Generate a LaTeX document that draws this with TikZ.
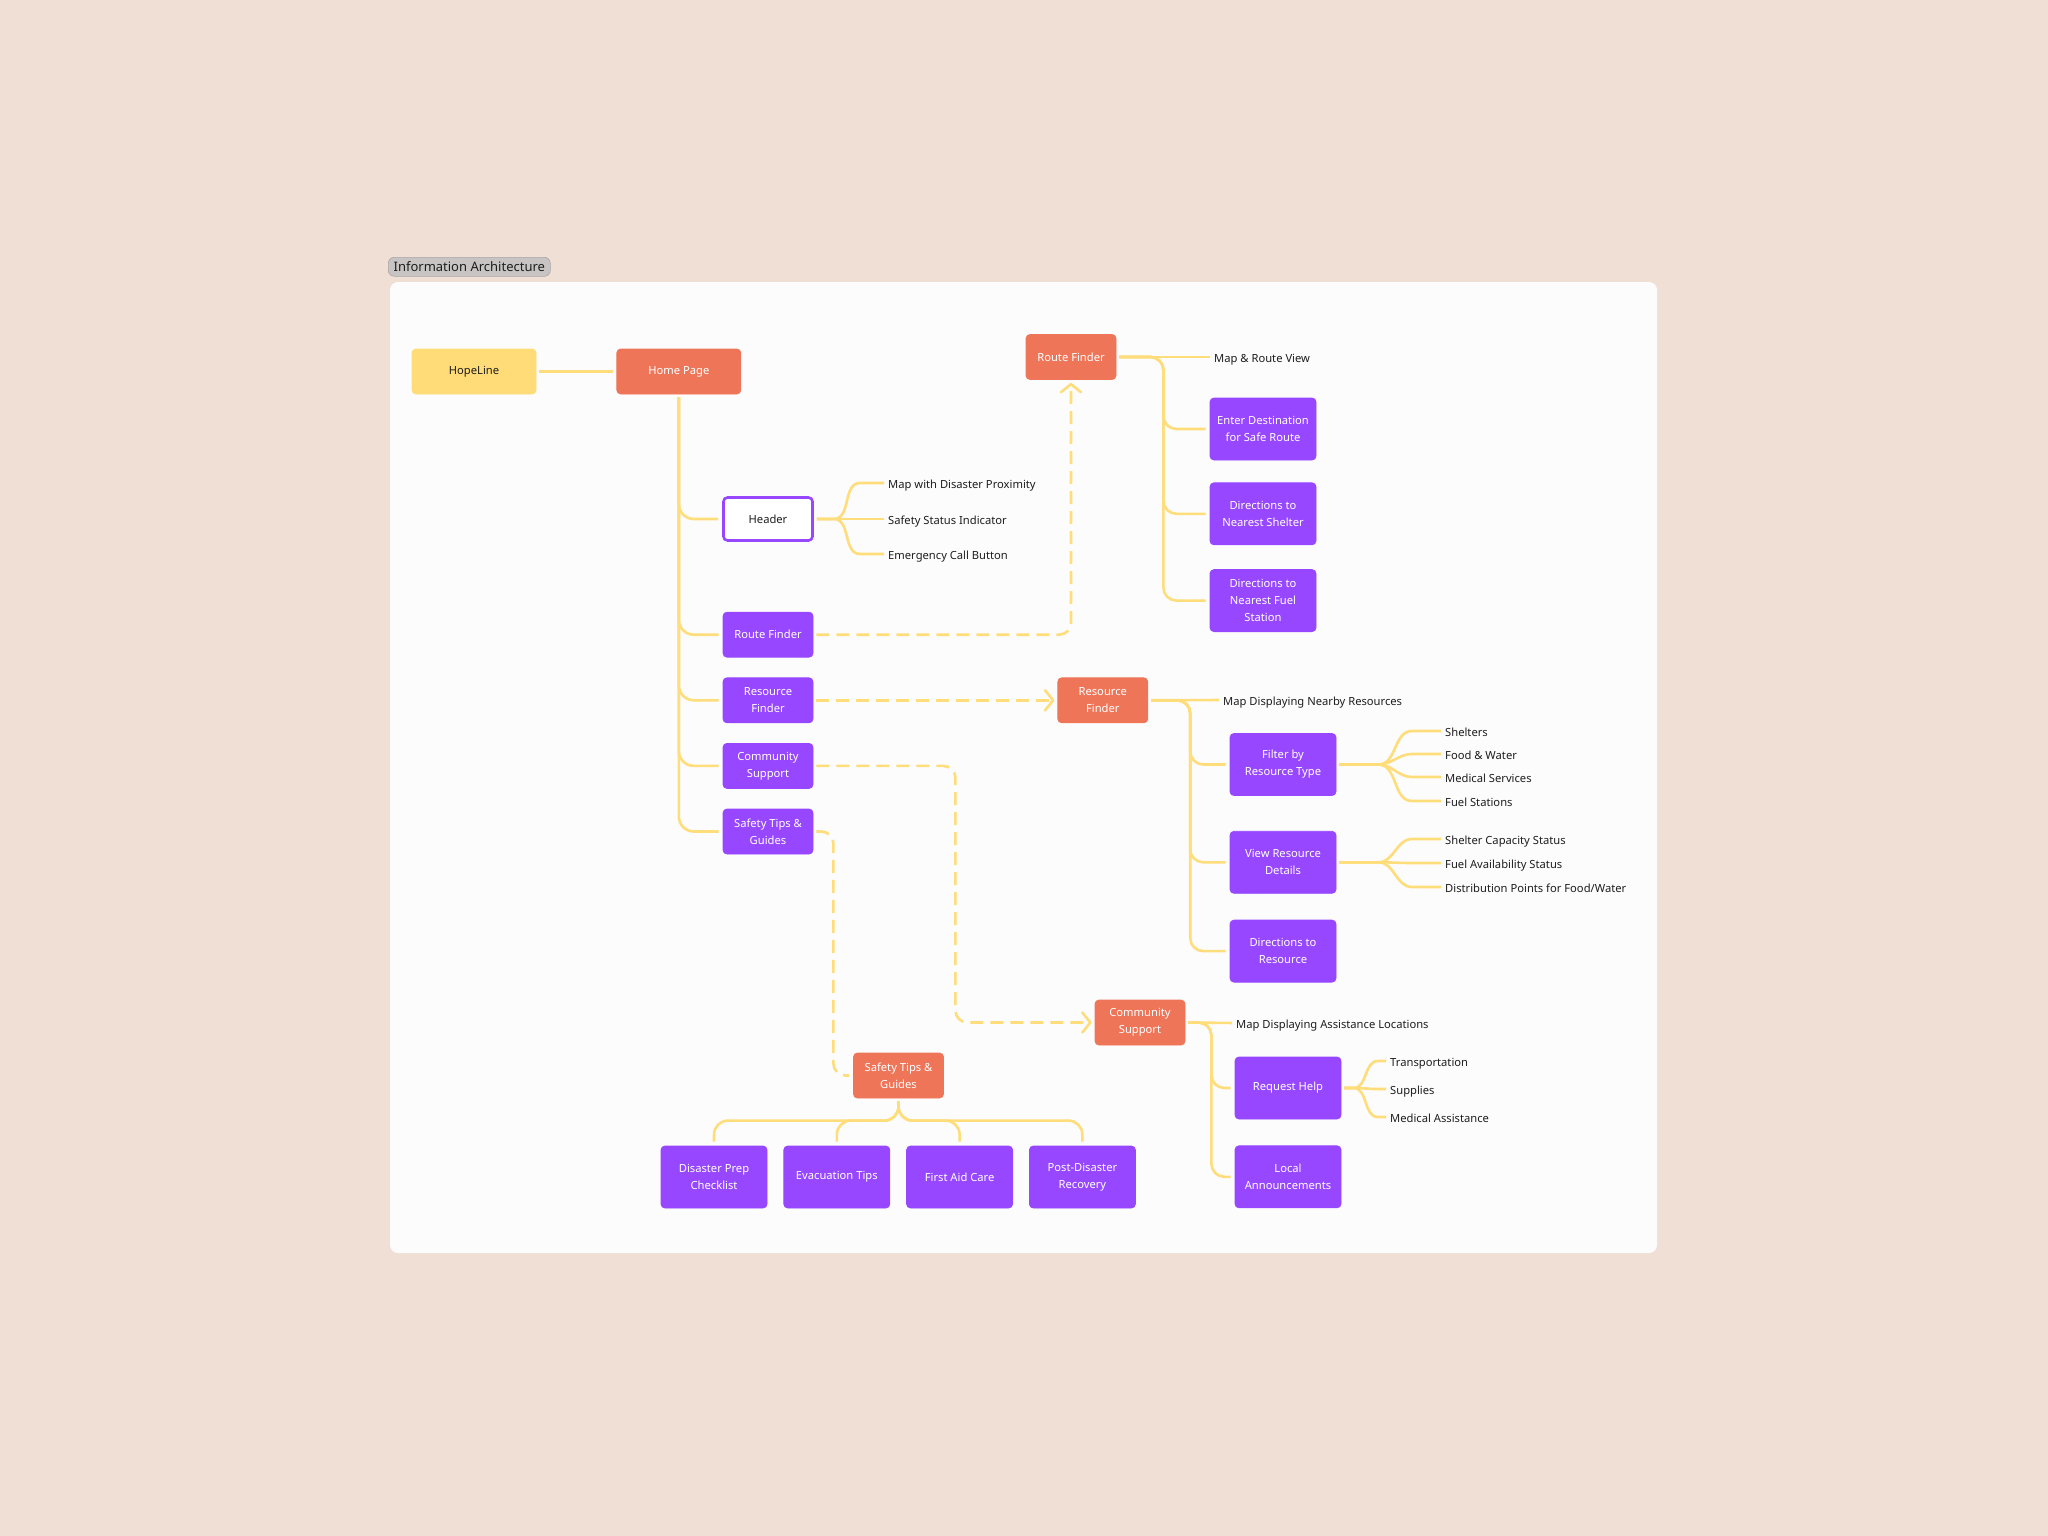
\documentclass[tikz,border=0pt]{standalone}
\usepackage{fontspec}
\setmainfont{Noto Sans}
\definecolor{PageBg}{RGB}{240,223,213}
\definecolor{PanelWhite}{RGB}{252,252,252}
\definecolor{HopeYellow}{RGB}{255,220,120}
\definecolor{LinkYellow}{RGB}{255,221,122}
\definecolor{PageOrange}{RGB}{239,117,89}
\definecolor{FeatPurple}{RGB}{151,71,255}
\definecolor{TagGrey}{RGB}{200,196,195}
\definecolor{InkDark}{RGB}{30,30,30}
\usetikzlibrary{arrows.meta, positioning, calc}
\tikzset{
  box/.style={rectangle, rounded corners=4pt, draw=#1, fill=#1, line width=0.8pt,
              minimum width=90pt, minimum height=45pt, inner sep=3pt,
              font=\fontsize{11.2}{17}\selectfont, text=white, align=center},
  bigbox/.style={box=#1, minimum width=106pt, minimum height=62pt},
  wbox/.style={box=#1, fill=white, text=InkDark, line width=2.6pt},
  tagbox/.style={rectangle, rounded corners=6pt, fill=TagGrey, draw=TagGrey!85!black,
                 line width=0.6pt, minimum width=162pt, minimum height=19pt, inner sep=2pt,
                 font=\fontsize{13}{15}\selectfont, text=InkDark},
  leaf/.style={inner sep=0pt, anchor=west, text height=12.5pt, text depth=1.5pt,
               font=\fontsize{11.2}{14}\selectfont, text=InkDark},
  conn/.style={draw=LinkYellow, line width=2.6pt, rounded corners=13pt,
               shorten <=3pt, shorten >=4pt},
  brace/.style={conn, sharp corners},
  dconn/.style={conn, dash pattern=on 13pt off 7pt},
  arr/.style={dconn, shorten >=3pt, -{Straight Barb[length=8pt, width=20pt, round]}},
}
\begin{document}
\begin{tikzpicture}[x=1pt, y=-1pt, node distance=20pt]
  \fill[PageBg] (0,0) rectangle (2048,1536);
  \useasboundingbox (0,0) rectangle (2048,1536);
  \fill[PanelWhite, rounded corners=8pt] (390,282) rectangle (1657,1253);
  \node[tagbox, anchor=north west] (tag) at (388,257) {Information Architecture};

  \node[box=HopeYellow, minimum width=124pt, text=InkDark] (hope) at (474,371.5) {HopeLine};
  \node[box=PageOrange, minimum width=124pt, right=80pt of hope] (home) {Home Page};

  \node[wbox=FeatPurple, minimum width=89pt, minimum height=43pt] (header) at (768,519) {Header};
  \node[box=FeatPurple, below=70pt of header] (route) {Route Finder};
  \node[box=FeatPurple, below=19.8pt of route] (resource) {Resource\\Finder};
  \node[box=FeatPurple, below=19.8pt of resource] (community) {Community\\Support};
  \node[box=FeatPurple, below=19.8pt of community] (safety) {Safety Tips \&\\Guides};

  \node[leaf] (hmap) at (888,483) {Map with Disaster Proximity};
  \node[leaf] (hstat) at (888,519) {Safety Status Indicator};
  \node[leaf] (hcall) at (888,554) {Emergency Call Button};

  \node[box=PageOrange] (rfo) at (1071,357) {Route Finder};
  \node[leaf] (rmap) at (1214,357) {Map \& Route View};
  \node[bigbox=FeatPurple] (enter) at (1263,429) {Enter Destination\\for Safe Route};
  \node[bigbox=FeatPurple, below=22pt of enter] (shelter) {Directions to\\Nearest Shelter};
  \node[bigbox=FeatPurple, below=24pt of shelter] (fuel) {Directions to\\Nearest Fuel\\Station};

  \node[box=PageOrange, right=244pt of resource] (rso) {Resource\\Finder};
  \node[leaf] (resmap) at (1223,700) {Map Displaying Nearby Resources};
  \node[bigbox=FeatPurple] (filter) at (1283,764.5) {Filter by\\Resource Type};
  \node[bigbox=FeatPurple, below=35pt of filter] (details) {View Resource\\Details};
  \node[bigbox=FeatPurple, below=26pt of details] (dirres) {Directions to\\Resource};
  \node[leaf] (shelters) at (1445,731) {Shelters};
  \node[leaf] (food) at (1445,754) {Food \& Water};
  \node[leaf] (medical) at (1445,777) {Medical Services};
  \node[leaf] (fuelst) at (1445,801) {Fuel Stations};
  \node[leaf] (capacity) at (1445,839) {Shelter Capacity Status};
  \node[leaf] (fuelav) at (1445,863) {Fuel Availability Status};
  \node[leaf] (distrib) at (1445,887) {Distribution Points for Food/Water};

  \node[box=PageOrange] (cso) at (1140,1022.5) {Community\\Support};
  \node[leaf] (cmap) at (1236,1023) {Map Displaying Assistance Locations};
  \node[bigbox=FeatPurple] (reqhelp) at (1288,1088) {Request Help};
  \node[bigbox=FeatPurple, below=26pt of reqhelp] (local) {Local\\Announcements};
  \node[leaf] (transport) at (1390,1061) {Transportation};
  \node[leaf] (supplies) at (1390,1089) {Supplies};
  \node[leaf] (medassist) at (1390,1117) {Medical Assistance};

  \node[box=PageOrange] (sto) at (898.5,1075.5) {Safety Tips \&\\Guides};
  \node[bigbox=FeatPurple] (prep) at (714,1177) {Disaster Prep\\Checklist};
  \node[bigbox=FeatPurple, right=16pt of prep] (evac) {Evacuation Tips};
  \node[bigbox=FeatPurple, right=16pt of evac] (aid) {First Aid Care};
  \node[bigbox=FeatPurple, right=16pt of aid] (post) {Post-Disaster\\Recovery};

  \draw[conn, shorten >=3pt] (hope) -- (home);
  \foreach \kid in {header,route,resource,community,safety}
    \draw[conn, rounded corners=15pt] (home.south) |- (\kid.west);
  \foreach \kid in {hmap,hstat,hcall}
    \draw[brace] (header.east) -- ++(20,0) to[out=0,in=180] ($(\kid.west)+(-28,0)$) -- (\kid.west);

  \draw[conn] (rfo.east) -- (rmap.west);
  \foreach \kid in {enter,shelter,fuel}
    \draw[conn] (rfo.east) -- ++(47,0) |- (\kid.west);

  \draw[conn] (rso.east) -- (resmap.west);
  \foreach \kid in {filter,details,dirres}
    \draw[conn] (rso.east) -- ++(42,0) |- (\kid.west);
  \foreach \kid in {shelters,food,medical,fuelst}
    \draw[brace] (filter.east) -- ++(42,0) to[out=0,in=180] ($(\kid.west)+(-33,0)$) -- (\kid.west);
  \foreach \kid in {capacity,fuelav,distrib}
    \draw[brace] (details.east) -- ++(42,0) to[out=0,in=180] ($(\kid.west)+(-33,0)$) -- (\kid.west);

  \draw[conn] (cso.east) -- (cmap.west);
  \foreach \kid in {reqhelp,local}
    \draw[conn] (cso.east) -- ++(26,0) |- (\kid.west);
  \foreach \kid in {transport,supplies,medassist}
    \draw[brace] (reqhelp.east) -- ++(12,0) to[out=0,in=180] ($(\kid.west)+(-12,0)$) -- (\kid.west);

  \foreach \kid in {prep,evac,aid,post}
    \draw[conn, rounded corners=14pt] (sto.south) |- ($(\kid.north)+(0,-25)$) -- (\kid.north);

  \draw[arr, rounded corners=12pt] (route.east) -| (rfo.south);
  \draw[arr] (resource) -- (rso);
  \draw[arr, rounded corners=12pt] (community.east) -- ++(142,0) |- (cso.west);
  \draw[dconn, rounded corners=12pt] (safety.east) -- ++(20,0) |- (sto.west);
\end{tikzpicture}
\end{document}
